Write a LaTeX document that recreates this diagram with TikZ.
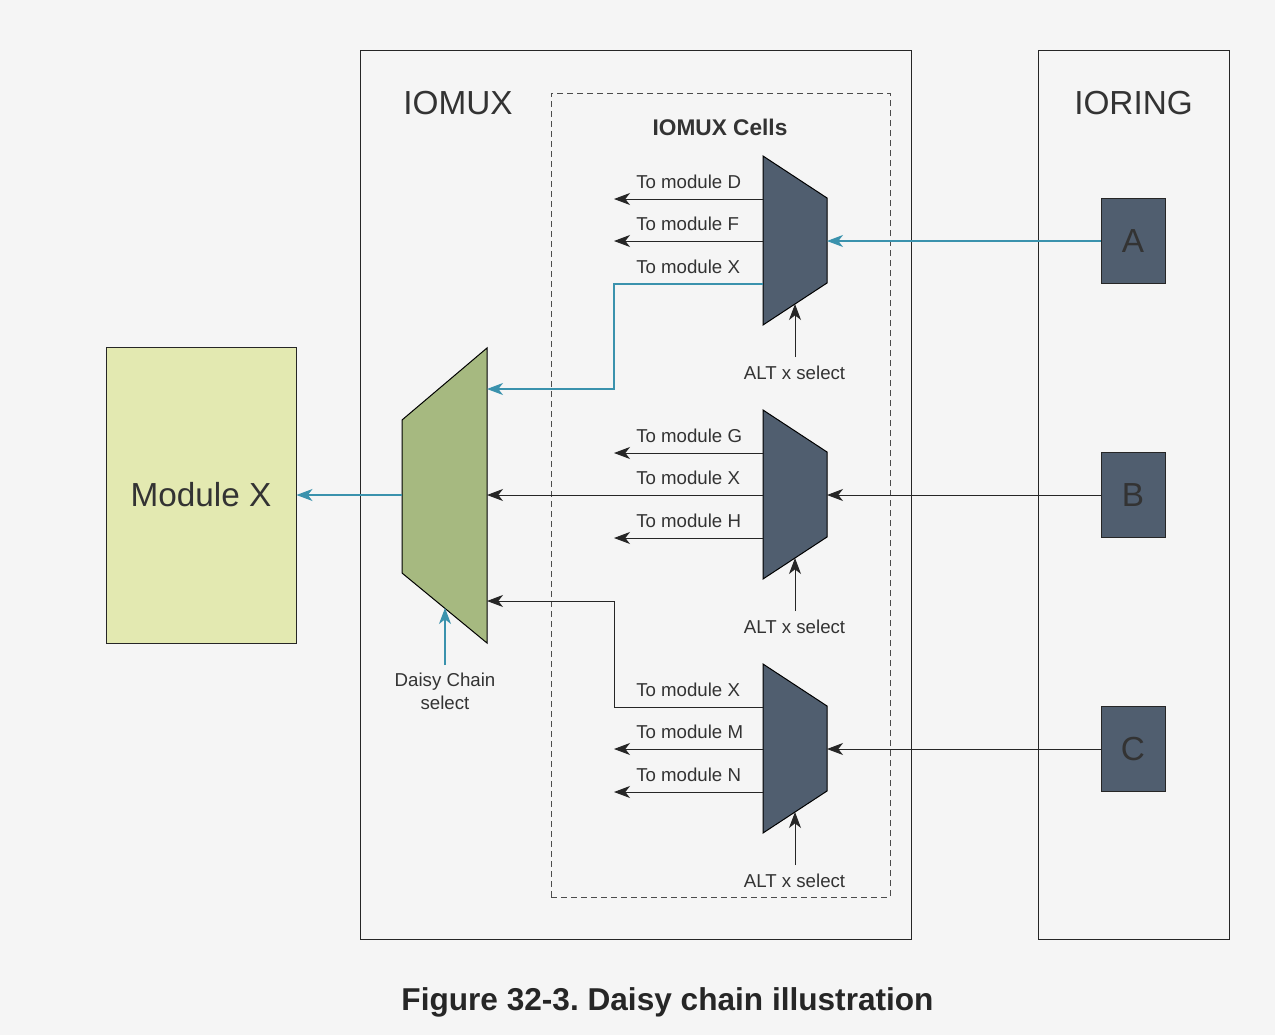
\documentclass[tikz,border=0pt]{standalone}
\usepackage{fontspec}
\setmainfont{Liberation Sans}
\usetikzlibrary{arrows.meta}
\definecolor{bgc}{HTML}{F5F5F5}
\definecolor{txtc}{HTML}{333333}
\definecolor{myteal}{HTML}{3A92AD}
\definecolor{slatec}{HTML}{505E6F}
\definecolor{mgreen}{HTML}{A6B980}
\definecolor{myellow}{HTML}{E3E9B1}
\tikzset{ar/.style={-{Stealth[length=12pt,width=9pt,inset=3.5pt]}}}
\begin{document}
\begin{tikzpicture}[x=0.75pt,y=-0.75pt,
  wire/.style={draw=black!85,line width=0.75pt},
  twire/.style={draw=myteal,line width=0.8pt},
  lbl/.style={font=\fontsize{14}{16}\selectfont,text=txtc,inner sep=0pt},
  big/.style={font=\fontsize{25}{28}\selectfont,text=txtc,inner sep=0pt},
  container/.style={draw=black!85,line width=0.75pt,inner sep=0pt},
  pad/.style={draw=black!85,line width=0.75pt,fill=slatec,inner sep=0pt,minimum width=48pt,minimum height=63.75pt,font=\fontsize{25}{28}\selectfont,text=txtc},
  muxshape/.style={draw=black,line width=0.75pt,fill=slatec},
  gmux/.style={draw=black,line width=0.75pt,fill=mgreen}]
% background
\fill[bgc] (0,0) rectangle (1275,1035);
\useasboundingbox (0,0) rectangle (1275,1035);
% containers
\node[container,minimum width=413.25pt,minimum height=666.75pt] (iomux) at (635.5,494.5) {};
\node[container,minimum width=143.25pt,minimum height=666.75pt] (ioring) at (1133.5,494.5) {};
\node[draw=black!70,dash pattern=on 4.5pt off 3pt,line width=0.75pt,inner sep=0pt,minimum width=254.25pt,minimum height=603pt] (cells) at (720.5,495) {};
\node[big,anchor=base] (iomuxlbl) at (458,114) {IOMUX};
\node[big,anchor=base] (ioringlbl) at (1133.5,114) {IORING};
\node[font=\bfseries\fontsize{17}{20}\selectfont,text=txtc,inner sep=0pt,anchor=base] (cellslbl) at (720,135) {IOMUX Cells};
% Module X
\node[draw=black!85,line width=0.75pt,fill=myellow,minimum width=142.5pt,minimum height=222pt,font=\fontsize{25}{28}\selectfont,text=txtc] (modx) at (201,495) {Module X};
% pads
\node[pad] (A) at (1133,241) {A};
\node[pad] (B) at (1133,495) {B};
\node[pad] (C) at (1133,749) {C};
% green daisy-chain mux
\draw[gmux] (402,420) -- (487,348) -- (487,643) -- (402,573) -- cycle;
\coordinate (gout) at (402,495);
\coordinate (g1) at (487,389);
\coordinate (g2) at (487,495);
\coordinate (g3) at (487,601);
\coordinate (gsel) at (445,608);
\coordinate (dstart) at (445,665);
\node[lbl,anchor=base] (dlbl1) at (445,686) {Daisy Chain};
\node[lbl,anchor=base] (dlbl2) at (445,709) {select};
% IOMUX cell muxes
\foreach \k/\yy in {1/0,2/254,3/508}{
  \begin{scope}[shift={(0,\yy)}]
    \draw[muxshape] (763,156) -- (827,198) -- (827,283) -- (763,325) -- cycle;
    \coordinate (m\k in) at (827,241);
    \coordinate (m\k o1) at (763,199);
    \coordinate (m\k o2) at (763,241);
    \coordinate (m\k o3) at (763,284);
    \coordinate (m\k sel) at (795,304);
    \coordinate (s\k) at (795,357);
    \coordinate (e\k a) at (614,199);
    \coordinate (e\k b) at (614,241);
    \coordinate (e\k c) at (614,284);
    \node[lbl,anchor=base] (alt\k) at (794.5,379) {ALT x select};
  \end{scope}
}
\coordinate (j1) at (614,389);
\coordinate (j3) at (614,601);
% labels of outputs
\node[lbl,anchor=base west] (t1a) at (636,188) {To module D};
\node[lbl,anchor=base west] (t1b) at (636,230) {To module F};
\node[lbl,anchor=base west] (t1c) at (636,273) {To module X};
\node[lbl,anchor=base west] (t2a) at (636,442) {To module G};
\node[lbl,anchor=base west] (t2b) at (636,484) {To module X};
\node[lbl,anchor=base west] (t2c) at (636,527) {To module H};
\node[lbl,anchor=base west] (t3a) at (636,696) {To module X};
\node[lbl,anchor=base west] (t3b) at (636,738) {To module M};
\node[lbl,anchor=base west] (t3c) at (636,781) {To module N};
% connectors
\draw[twire,ar] (A.west) -- (m1in);
\draw[wire,ar] (B.west) -- (m2in);
\draw[wire,ar] (C.west) -- (m3in);
\draw[wire,ar] (m1o1) -- (e1a);
\draw[wire,ar] (m1o2) -- (e1b);
\draw[twire,ar] (m1o3) -| (j1) -- (g1);
\draw[wire,ar] (m2o1) -- (e2a);
\draw[wire,ar] (m2o2) -- (g2);
\draw[wire,ar] (m2o3) -- (e2c);
\draw[wire,ar] (m3o1) -| (j3) -- (g3);
\draw[wire,ar] (m3o2) -- (e3b);
\draw[wire,ar] (m3o3) -- (e3c);
\foreach \k in {1,2,3}{\draw[wire,ar] (s\k) -- (m\k sel);}
\draw[twire,ar] (dstart) -- (gsel);
\draw[twire,ar] (gout) -- (modx.east);
% caption
\node[font=\bfseries\fontsize{23.7}{28}\selectfont,text=black!85,inner sep=0pt,anchor=base] (caption) at (667.5,1010) {\frenchspacing Figure 32-3. Daisy chain illustration};
\end{tikzpicture}
\end{document}
